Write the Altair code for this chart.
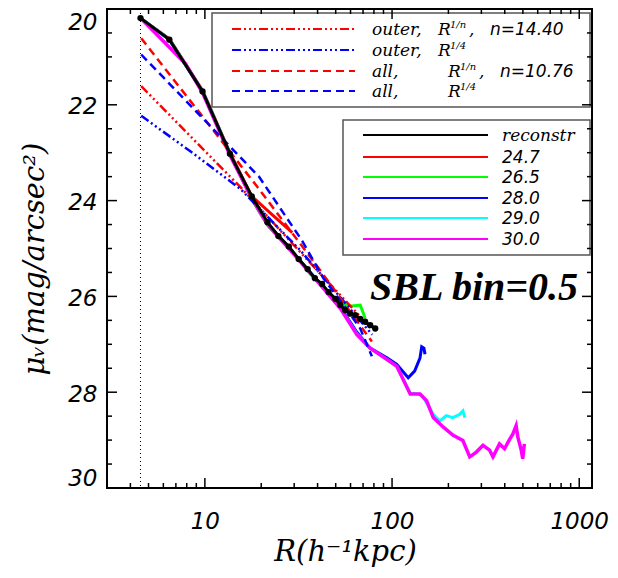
import altair as alt
import pandas as pd

# ---------------- data ----------------
inner_R = [4.53]

recon_R = [4.53, 6.46, 9.72, 13.6, 17.8, 21.6, 24.7, 28.1, 31.7, 35.4, 38.7, 42.3, 45.8, 49.8,
           52.9, 56.2, 59.8, 63.6, 67.6, 71.8, 76.4, 81.3]
recon_mu = [20.19, 20.64, 21.72, 23.02, 23.91, 24.45, 24.74, 24.96, 25.22, 25.43, 25.62, 25.74,
            25.91, 26.05, 26.18, 26.29, 26.36, 26.39, 26.47, 26.53, 26.60, 26.67]

lim247_R = [4.53, 6.46, 9.72, 13.6, 17.8, 22.4, 29.3]
lim247_mu = [20.19, 20.62, 21.70, 23.00, 23.91, 24.26, 24.67]

lim265_R = [4.53, 6.46, 9.72, 13.6, 17.6, 19.6, 22.0, 28.0, 32.4, 35.2, 42.0, 49.0, 55.1, 61.0,
            67.6, 70.4, 71.8]
lim265_mu = [20.19, 20.64, 21.72, 23.02, 23.93, 24.25, 24.55, 24.98, 25.26, 25.46, 25.78, 26.02,
             26.18, 26.20, 26.18, 26.36, 26.46]

lim280_R = [4.53, 6.46, 9.72, 13.6, 17.8, 21.6, 28.1, 35.4, 42.3, 52.9, 64.9, 76.4, 93.8, 106,
            122, 132, 141, 144, 148, 150]
lim280_mu = [20.19, 20.64, 21.72, 23.02, 23.93, 24.48, 24.98, 25.44, 25.78, 26.22, 26.75, 27.08,
             27.28, 27.42, 27.70, 27.56, 27.29, 27.05, 27.08, 27.21]

lim290_R = [4.53, 6.46, 9.72, 13.6, 17.8, 21.6, 28.1, 35.4, 42.3, 52.9, 64.9, 76.4, 86.3, 97.5,
            106, 125, 141, 147, 166, 180, 195, 211, 230, 239, 245]
lim290_mu = [20.19, 20.64, 21.72, 23.02, 23.93, 24.48, 24.98, 25.44, 25.78, 26.24, 26.78, 27.08,
             27.22, 27.36, 27.46, 28.02, 28.04, 28.11, 28.46, 28.60, 28.49, 28.53, 28.46, 28.39,
             28.53]

lim300_R = [4.53, 6.1, 7.9, 9.72, 13.6, 17.8, 21.6, 28.1, 35.4, 42.3, 52.9, 64.9, 76.4, 86.3,
            97.5, 106, 125, 141, 153, 166, 188, 212, 239, 260, 282, 306, 332, 346, 375, 399,
            421, 442, 460, 470, 490, 499, 509]
lim300_mu = [20.19, 20.70, 21.15, 21.75, 23.05, 23.95, 24.50, 25.00, 25.45, 25.80, 26.25, 26.80,
             27.08, 27.22, 27.36, 27.46, 28.04, 28.04, 28.18, 28.53, 28.73, 28.90, 29.01, 29.35,
             29.25, 29.11, 29.21, 29.35, 29.08, 29.18, 29.01, 28.87, 28.70, 28.94, 29.21, 29.39,
             29.08]

# fits
outer_n_R = [4.57, 8.43, 15.5, 32.4, 78.3]
outer_n_mu = [21.61, 22.67, 23.72, 25.08, 26.69]
outer_4_R = [4.57, 8.43, 15.5, 32.4, 78.3]
outer_4_mu = [22.23, 22.98, 23.76, 25.04, 26.80]
all_n_R = [4.57, 9.52, 18.7, 39.8, 78.0]
all_n_mu = [20.61, 22.20, 23.67, 25.37, 26.94]
all_4_R = [4.57, 9.52, 19.45, 33.1, 43.1, 55.1, 67.6, 78.0]
all_4_mu = [20.95, 22.24, 23.50, 24.84, 25.63, 26.18, 26.67, 27.25]

# ticks / labels
x_major = [10, 100, 1000]
x_minor = [4, 5, 6, 7, 8, 9, 20, 30, 40, 50, 60, 70, 80, 90, 200, 300, 400, 500, 600, 700, 800, 900]
y_major = [20, 22, 24, 26, 28, 30]
y_minor = [20.5, 21, 21.5, 22.5, 23, 23.5, 24.5, 25, 25.5, 26.5, 27, 27.5, 28.5, 29, 29.5]

fit_words = ["outer,", "outer,", "all,", "all,"]
fit_powers = ["1/n", "1/4", "1/n", "1/4"]
fit_n = ["n=14.40", "", "n=10.76", ""]
prof_labels = ["reconstr", "24.7", "26.5", "28.0", "29.0", "30.0"]
x_title = "R(h\u207b\u00b9kpc)"
y_title = "\u03bc\u1d65(mag/arcsec\u00b2)"
note = "SBL bin=0.5"

# ---------------- chart ----------------
W, H = 485, 479
xscale = alt.Scale(type="log", domain=[3, 1170], nice=False)
yscale = alt.Scale(domain=[20, 30], reverse=True, nice=False, zero=False)

xaxis = alt.Axis(values=x_major, format="d", ticks=False, tickSize=0, domain=False, grid=False,
                 labelFont="DejaVu Sans", labelFontSize=23, labelFontStyle="italic",
                 labelColor="black", labelPadding=40, labelBaseline="alphabetic",
                 title=x_title, titleFont="DejaVu Serif", titleFontSize=29,
                 titleFontStyle="italic", titleFontWeight="normal", titleColor="black",
                 titleX=238, titleY=72, titleAlign="center", titleBaseline="alphabetic")
yaxis = alt.Axis(values=y_major, format="d", ticks=False, tickSize=0, domain=False, grid=False,
                 labelFont="DejaVu Sans", labelFontSize=23, labelFontStyle="italic",
                 labelColor="black", labelPadding=10, labelFlush=True, labelOffset=2,
                 title=y_title, titleFont="DejaVu Serif", titleFontSize=29,
                 titleFontStyle="italic", titleFontWeight="normal", titleColor="black",
                 titleAngle=270, titleX=-64, titleY=366, titleAlign="left",
                 titleBaseline="alphabetic")

X = alt.X("R:Q", scale=xscale, axis=xaxis)
Y = alt.Y("mu:Q", scale=yscale, axis=yaxis)


def curve(R, mu, color, width, dash=None):
    df = pd.DataFrame({"R": R, "mu": mu, "i": list(range(len(R)))})
    kw = dict(color=color, strokeWidth=width, clip=True)
    if dash:
        kw["strokeDash"] = dash
    return alt.Chart(df).mark_line(**kw).encode(x=X, y=Y, order="i:Q")


def one(t=""):
    return pd.DataFrame({"t": [t]})


def txt(t, x, y, size, font, style="italic", weight="normal", align="left", baseline="alphabetic"):
    return alt.Chart(one(t)).mark_text(align=align, baseline=baseline, font=font, fontSize=size,
                                       fontStyle=style, fontWeight=weight, color="black").encode(
        x=alt.value(x), y=alt.value(y), text="t:N")


def sample(x1, x2, y, color, width, dash=None):
    kw = dict(color=color, strokeWidth=width)
    if dash:
        kw["strokeDash"] = dash
    return alt.Chart(one()).mark_rule(**kw).encode(x=alt.value(x1), x2=alt.value(x2), y=alt.value(y))


def box(x1, x2, y1, y2):
    return alt.Chart(one()).mark_rect(fill="white", stroke="#555555", strokeWidth=1.5).encode(
        x=alt.value(x1), x2=alt.value(x2), y=alt.value(y1), y2=alt.value(y2))


DDD = [9, 3, 2, 3, 2, 3, 2, 3]
DASH = [8, 5]

layers = []

# inner radius dotted line
layers.append(alt.Chart(pd.DataFrame({"R": inner_R})).mark_rule(
    color="black", strokeWidth=1, strokeDash=[1, 3]).encode(x=X))

# profiles
layers.append(curve(lim247_R, lim247_mu, "#ff0000", 3))
layers.append(curve(lim265_R, lim265_mu, "#00ff00", 3))
layers.append(curve(lim280_R, lim280_mu, "#0000ff", 3))
layers.append(curve(lim290_R, lim290_mu, "#00ffff", 3))
layers.append(curve(lim300_R, lim300_mu, "#ff00ff", 3.5))

# fits
layers.append(curve(outer_n_R, outer_n_mu, "#ff0000", 2.5, DDD))
layers.append(curve(outer_4_R, outer_4_mu, "#0000ff", 2.5, DDD))
layers.append(curve(all_n_R, all_n_mu, "#ff0000", 2.5, DASH))
layers.append(curve(all_4_R, all_4_mu, "#0000ff", 2.5, DASH))

# reconstruction
layers.append(curve(recon_R, recon_mu, "black", 3))
layers.append(alt.Chart(pd.DataFrame({"R": recon_R, "mu": recon_mu})).mark_point(
    filled=True, size=40, color="black", opacity=1).encode(x=X, y=Y))

# legend 1 (fits)
layers.append(box(105, 483, 4, 98))
rows1 = [20, 41, 62, 82]
colors1 = ["#ff0000", "#0000ff", "#ff0000", "#0000ff"]
dashes1 = [DDD, DDD, DASH, DASH]
rx = [331, 331, 341, 341]
for k in range(4):
    yy = rows1[k]
    layers.append(sample(125, 248, yy, colors1[k], 2, dashes1[k]))
    layers.append(txt(fit_words[k], 265, yy + 6, 17, "DejaVu Serif"))
    layers.append(txt("R", rx[k], yy + 6, 17, "DejaVu Serif"))
    layers.append(txt(fit_powers[k], rx[k] + 12, yy - 1, 10, "DejaVu Serif"))
    if fit_n[k]:
        layers.append(txt(",", rx[k] + 31, yy + 6, 17, "DejaVu Serif"))
        layers.append(txt(fit_n[k], rx[k] + 52, yy + 6, 17, "DejaVu Sans"))

# legend 2 (profiles)
layers.append(box(236, 483, 111, 246))
rows2 = [126, 148, 168, 189, 209, 230]
colors2 = ["black", "#ff0000", "#00ff00", "#0000ff", "#00ffff", "#ff00ff"]
for k in range(6):
    yy = rows2[k]
    layers.append(sample(256, 381, yy, colors2[k], 2))
    layers.append(txt(prof_labels[k], 395, yy + 6, 17,
                      "DejaVu Serif" if k == 0 else "DejaVu Sans"))

layers.append(txt(note, 263, 291, 40, "Liberation Serif", weight="bold"))

# ticks (inward, all four sides), drawn on top
xmaj = pd.DataFrame({"R": x_major})
xmin = pd.DataFrame({"R": x_minor})
ymaj = pd.DataFrame({"mu": y_major})
ymin = pd.DataFrame({"mu": y_minor})
for df, ln in ((xmaj, 10), (xmin, 5)):
    layers.append(alt.Chart(df).mark_tick(color="black", thickness=1.5, size=ln,
                                          orient="vertical", opacity=1).encode(
        x=X, y=alt.value(H - ln / 2)))
    layers.append(alt.Chart(df).mark_tick(color="black", thickness=1.5, size=ln,
                                          orient="vertical", opacity=1).encode(
        x=X, y=alt.value(ln / 2)))
for df, ln in ((ymaj, 10), (ymin, 5)):
    layers.append(alt.Chart(df).mark_tick(color="black", thickness=1.5, size=ln,
                                          orient="horizontal", opacity=1).encode(
        y=Y, x=alt.value(ln / 2)))
    layers.append(alt.Chart(df).mark_tick(color="black", thickness=1.5, size=ln,
                                          orient="horizontal", opacity=1).encode(
        y=Y, x=alt.value(W - ln / 2)))

chart = alt.layer(*layers).properties(
    width=W, height=H,
    autosize=alt.AutoSizeParams(type="none"),
    padding={"left": 99, "top": 1, "right": 18, "bottom": 82},
    background="white",
).configure_view(stroke="black", strokeWidth=2)

chart.save("out.html", embed_options={"renderer": "svg", "actions": False})
